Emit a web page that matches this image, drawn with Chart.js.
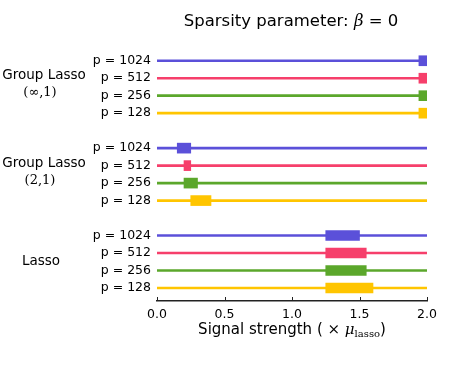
<!DOCTYPE html>
<html>
<head>
<meta charset="utf-8">
<script src="https://cdn.jsdelivr.net/npm/chart.js@4.4.0/dist/chart.umd.min.js"></script>
<style>
  html, body { margin: 0; padding: 0; background: #fff; }
  #wrap { width: 449px; height: 374px; }
</style>
</head>
<body>
<div id="wrap"><canvas id="chart" width="449" height="374"></canvas></div>
<script>
// rows, top to bottom; a blank slot sits between the groups
const rowLabels = ['p = 1024', 'p = 512', 'p = 256', 'p = 128'];
const groups = ['Group Lasso', 'Group Lasso', 'Lasso'];
const groupSubs = ['(\u221E,1)', '(2,1)', ''];
const colors = ['#5b50d9', '#f63f6b', '#5ba72b', '#ffc500'];

// [start, end] of the thick segment for each row (signal strength)
const gl_inf1 = [[1.94, 2.0], [1.94, 2.0], [1.94, 2.0], [1.94, 2.0]];
const gl_21 = [[0.15, 0.25], [0.2, 0.25], [0.2, 0.3], [0.25, 0.4]];
const lasso = [[1.25, 1.5], [1.25, 1.55], [1.25, 1.55], [1.25, 1.6]];
const xTicks = [0, 0.5, 1.0, 1.5, 2.0];

const ranges = [gl_inf1, gl_21, lasso];
const rowPos = [];
const rowText = {};
const lineData = [], barData = [], rowColors = [];
ranges.forEach((grp, g) => {
  grp.forEach((r, i) => {
    const y = g * 5 + i;
    rowPos.push(y);
    rowText[y] = rowLabels[i];
    lineData.push({ y: y, x: [0, 2] });
    barData.push({ y: y, x: r });
    rowColors.push(colors[i]);
  });
});

const extras = {
  id: 'extras',
  afterDraw(chart) {
    const ctx = chart.ctx;
    const xs = chart.scales.x, ys = chart.scales.y;
    const area = chart.chartArea;
    ctx.save();
    // inward ticks on the x axis
    ctx.strokeStyle = '#222';
    ctx.lineWidth = 1;
    xTicks.forEach(v => {
      const px = Math.round(xs.getPixelForValue(v)) + 0.5;
      ctx.beginPath();
      ctx.moveTo(px, area.bottom);
      ctx.lineTo(px, area.bottom - 4);
      ctx.stroke();
    });
    ctx.fillStyle = '#000';
    ctx.textBaseline = 'middle';
    // group labels
    groups.forEach((name, g) => {
      const mid = ys.getPixelForValue(g * 5 + 1.5);
      ctx.textAlign = 'center';
      if (groupSubs[g]) {
        ctx.font = '13.5px "DejaVu Sans"';
        ctx.fillText(name, 44, mid - 11);
        ctx.font = '13px "DejaVu Serif"';
        ctx.fillText(groupSubs[g], 40, mid + 6);
      } else {
        ctx.font = '13.5px "DejaVu Sans"';
        ctx.fillText(name, 41, mid);
      }
    });
    // title
    const cx = (area.left + area.right) / 2;
    drawMixed(ctx, [
      { t: 'Sparsity parameter: ', f: '16.5px "DejaVu Sans"' },
      { t: '\u03B2', f: 'italic 16.5px "DejaVu Serif"' },
      { t: ' = 0', f: '16.5px "DejaVu Sans"' }
    ], cx - 1, 22);
    // x axis title
    drawMixed(ctx, [
      { t: 'Signal strength ( ', f: '15px "DejaVu Sans"' },
      { t: '\u00D7 ', f: '15px "DejaVu Serif"' },
      { t: '\u03BC', f: 'italic 15px "DejaVu Serif"' },
      { t: 'lasso', f: '10px "DejaVu Serif"', dy: 4 },
      { t: ')', f: '15px "DejaVu Sans"' }
    ], cx, 330);
    ctx.restore();
  }
};

function drawMixed(ctx, parts, cx, cy) {
  let w = 0;
  parts.forEach(p => { ctx.font = p.f; p.w = ctx.measureText(p.t).width; w += p.w; });
  let x = cx - w / 2;
  ctx.textAlign = 'left';
  parts.forEach(p => {
    ctx.font = p.f;
    ctx.fillText(p.t, x, cy + (p.dy || 0));
    x += p.w;
  });
}

new Chart(document.getElementById('chart'), {
  type: 'bar',
  data: {
    datasets: [
      {
        data: lineData,
        backgroundColor: rowColors,
        barThickness: 2,
        grouped: false,
        order: 2
      },
      {
        data: barData,
        backgroundColor: rowColors,
        barThickness: 10,
        grouped: false,
        order: 1
      }
    ]
  },
  options: {
    indexAxis: 'y',
    responsive: false,
    animation: false,
    layout: { padding: { top: 52, right: 22, left: 0, bottom: 0 } },
    plugins: {
      legend: { display: false },
      tooltip: { enabled: false },
      title: { display: false }
    },
    scales: {
      x: {
        type: 'linear',
        min: 0,
        max: 2,
        afterBuildTicks: s => { s.ticks = xTicks.map(v => ({ value: v })); },
        afterFit: s => { s.height = 73; },
        grid: { display: false, drawTicks: false },
        border: { display: true, color: '#222', width: 1.5 },
        ticks: {
          padding: 6,
          color: '#000',
          font: { family: 'DejaVu Sans', size: 12.5 },
          callback: v => Number(v).toFixed(1)
        }
      },
      y: {
        type: 'linear',
        reverse: true,
        offset: false,
        min: -0.5,
        max: 13.745,
        afterBuildTicks: s => { s.ticks = rowPos.map(v => ({ value: v })); },
        afterFit: s => { s.width = 157; },
        grid: { display: false, drawTicks: false },
        border: { display: false },
        ticks: {
          padding: 6,
          color: '#000',
          font: { family: 'DejaVu Sans', size: 12.5 },
          callback: v => rowText[v] || ''
        }
      }
    }
  },
  plugins: [extras]
});
</script>
</body>
</html>
